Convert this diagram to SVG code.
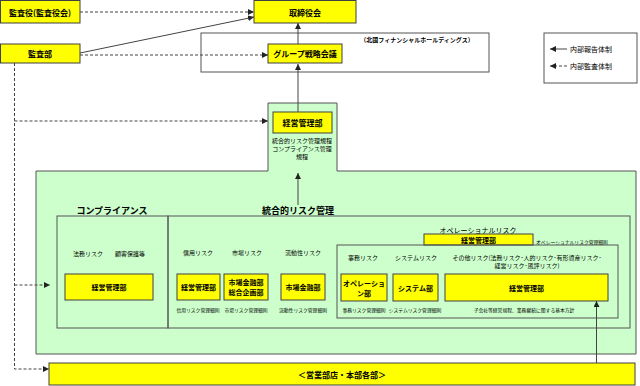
<svg xmlns="http://www.w3.org/2000/svg" width="640" height="386" viewBox="0 0 640 386">
<defs>
<style>
text{font-family:"Noto Sans CJK JP","Noto Sans",sans-serif;fill:#000;text-anchor:middle;dominant-baseline:central}
.y{fill:#FFFF00;stroke:#404040;stroke-width:1}
.b{font-weight:bold}
.f8{font-size:8px}.f7{font-size:7px}.f6{font-size:6px}.f5{font-size:4.8px}.f9{font-size:9px}
.ln{stroke:#444;stroke-width:1;fill:none}
.ds{stroke:#444;stroke-width:1;fill:none;stroke-dasharray:3,2}
.fr{fill:none;stroke:#555;stroke-width:1}
</style>
<marker id="ah" viewBox="0 0 6 6" refX="6" refY="3" markerWidth="6" markerHeight="6" orient="auto" markerUnits="userSpaceOnUse"><path d="M0,0L6,3L0,6Z" fill="#222"/></marker>
</defs>
<rect width="640" height="386" fill="#fff"/>
<!-- frames -->
<g id="hd-frame"><rect x="201" y="33" width="288" height="39" fill="#fff" stroke="#555"/>
<text x="417" y="39" class="f6 b">（北國フィナンシャルホールディングス）</text></g>
<g id="green-region"><path d="M36,171H268V103H337V171H636V354H36Z" fill="#CCFFCC" stroke="#555"/></g>
<g id="legend"><rect x="544" y="33" width="93" height="50" fill="#fff" stroke="#555"/>
<text x="591" y="49" class="f7">内部報告体制</text><text x="591" y="66" class="f7">内部監査体制</text></g>
<!-- nodes -->
<g id="kansayaku"><rect class="y" x="0.5" y="0.5" width="79.5" height="22.5"/><text x="40" y="12" class="f8 b">監査役(監査役会)</text></g>
<g id="kansabu"><rect class="y" x="0.5" y="44" width="79.5" height="19"/><text x="40" y="53.5" class="f8 b">監査部</text></g>
<g id="torishimariyaku"><rect class="y" x="254" y="0.5" width="102" height="22.5"/><text x="305" y="12" class="f8 b">取締役会</text></g>
<g id="group-kaigi"><rect class="y" x="268" y="44" width="74" height="19"/><text x="305" y="53.5" class="f8 b">グループ戦略会議</text></g>
<g id="keiei-top"><rect class="y" x="273" y="112" width="59" height="21"/><text x="302.5" y="122.5" class="f8 b">経営管理部</text>
<text x="302" y="140" class="f6">統合的リスク管理規程</text><text x="302" y="148" class="f6">コンプライアンス管理</text><text x="302" y="156" class="f6">規程</text></g>
<g id="compliance"><rect class="fr" x="57" y="216" width="111" height="112"/>
<text x="112" y="210" class="f9 b">コンプライアンス</text>
<text x="88" y="253" class="f6">法務リスク</text><text x="130" y="253" class="f6">顧客保護等</text>
<rect class="y" x="65" y="274" width="88" height="26"/><text x="109" y="287" class="f7 b">経営管理部</text></g>
<g id="integrated"><rect class="fr" x="168" y="216" width="462" height="112"/>
<text x="298" y="210" class="f9 b">統合的リスク管理</text>
<text x="198" y="252" class="f6">信用リスク</text><text x="247" y="252" class="f6">市場リスク</text><text x="303" y="252" class="f6">流動性リスク</text>
<rect class="y" x="177" y="274" width="43" height="26"/><text x="198.5" y="287" class="f7 b">経営管理部</text>
<rect class="y" x="224" y="274" width="44" height="26"/><text x="246" y="282" class="f7 b">市場金融部</text><text x="246" y="292" class="f7 b">総合企画部</text>
<rect class="y" x="281" y="274" width="44" height="26"/><text x="303" y="287" class="f7 b">市場金融部</text>
<text x="198" y="309" class="f5">信用リスク管理細則</text><text x="246" y="309" class="f5">市場リスク管理細則</text><text x="303" y="309" class="f5">流動性リスク管理細則</text></g>
<g id="operational"><text x="478" y="230" class="f7">オペレーショナルリスク</text>
<rect class="y" x="424" y="234" width="109" height="11"/><text x="478.5" y="239.5" class="f7 b">経営管理部</text>
<text x="572" y="241" class="f5">オペレーショナルリスク管理細則</text>
<rect class="fr" x="337" y="245" width="281" height="73"/>
<text x="363" y="257" class="f6">事務リスク</text><text x="416" y="257" class="f6">システムリスク</text>
<text x="527" y="257" class="f6">その他リスク(法務リスク･人的リスク･有形資産リスク･</text><text x="527" y="265" class="f6">経営リスク･風評リスク)</text>
<rect class="y" x="341" y="274" width="46" height="27"/><text x="364" y="283" class="f7 b">オペレーショ</text><text x="364" y="293" class="f7 b">ン部</text>
<rect class="y" x="393" y="274" width="45" height="27"/><text x="415.5" y="287.5" class="f7 b">システム部</text>
<rect class="y" x="445" y="274" width="163" height="27"/><text x="526.5" y="287.5" class="f7 b">経営管理部</text>
<text x="364" y="309" class="f5">事務リスク管理細則</text><text x="415" y="309" class="f5">システムリスク管理細則</text><text x="524" y="309" class="f5">子会社等経営規程、業務継続に関する基本方針</text></g>
<g id="eigyo"><rect class="y" x="49" y="363" width="586" height="22"/><text x="342" y="374" class="f8 b">＜営業部店・本部各部＞</text></g>
<!-- connectors -->
<g id="connectors">
<line class="ds" x1="80" y1="12" x2="254" y2="12" marker-end="url(#ah)"/>
<line class="ln" x1="80" y1="53" x2="254" y2="17" marker-end="url(#ah)"/>
<line class="ds" x1="80" y1="55" x2="268" y2="55" marker-end="url(#ah)"/>
<line class="ln" x1="298" y1="44" x2="298" y2="23" marker-end="url(#ah)"/>
<line class="ln" x1="298" y1="112" x2="298" y2="64" marker-end="url(#ah)"/>
<line class="ln" x1="298" y1="205" x2="298" y2="173" marker-end="url(#ah)"/>
<polyline class="ds" points="14.5,63 14.5,369 49,369" marker-end="url(#ah)"/>
<line class="ds" x1="14.5" y1="121" x2="268" y2="121" marker-end="url(#ah)"/>
<line class="ds" x1="14.5" y1="285" x2="50" y2="285" marker-end="url(#ah)"/>
<line class="ln" x1="596.5" y1="363" x2="596.5" y2="301" marker-end="url(#ah)"/>
<line class="ln" x1="567" y1="49" x2="550" y2="49" marker-end="url(#ah)"/>
<line class="ds" x1="567" y1="66" x2="550" y2="66" marker-end="url(#ah)"/>
</g>
</svg>
